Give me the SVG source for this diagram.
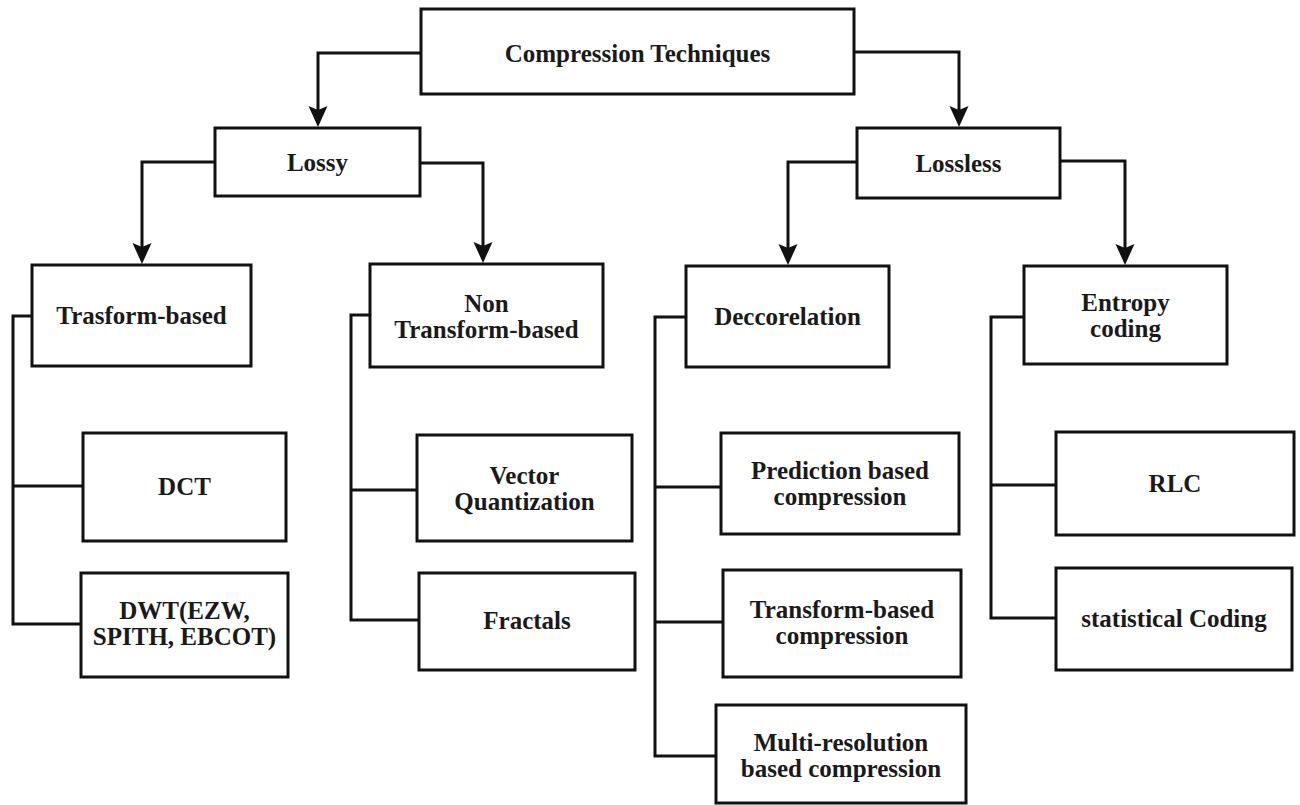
<svg xmlns="http://www.w3.org/2000/svg" width="1300" height="805" viewBox="0 0 1300 805">
  <style>
    .box { fill: #ffffff; stroke: #111111; stroke-width: 3; }
    .lbl { font-family: 'Liberation Serif', 'Times New Roman', 'DejaVu Serif', serif; font-size: 25px; font-weight: bold; fill: #1a1a1a; text-anchor: middle; }
    .wire { fill: none; stroke: #111111; stroke-width: 3; stroke-linejoin: miter; }
  </style>
  <defs>
    <marker id="head" markerUnits="userSpaceOnUse" viewBox="-22 -11 24 22" markerWidth="24" markerHeight="22" refX="-8" refY="0" orient="auto">
      <path d="M0,0 L-21,-9.5 L-17,0 L-21,9.5 Z" fill="#111111"/>
    </marker>
  </defs>
  <rect width="1300" height="805" fill="#ffffff"/>

  <!-- connectors -->
  <g id="connectors">
    <path class="wire" d="M421,53 H318 V119" marker-end="url(#head)"/>
    <path class="wire" d="M854,52 H959 V119" marker-end="url(#head)"/>
    <path class="wire" d="M215,162 H142 V256" marker-end="url(#head)"/>
    <path class="wire" d="M420,163 H483 V255" marker-end="url(#head)"/>
    <path class="wire" d="M857,162 H788 V257" marker-end="url(#head)"/>
    <path class="wire" d="M1060,161 H1125 V257" marker-end="url(#head)"/>

    <path class="wire" d="M32,316 H13 V624 H81 M13,486 H83"/>
    <path class="wire" d="M370,315 H351 V620 H419 M351,490 H417"/>
    <path class="wire" d="M686,317 H655 V756 H716 M655,487 H721 M655,622 H723"/>
    <path class="wire" d="M1024,317 H991 V618 H1056 M991,485 H1056"/>
  </g>

  <g font-family="Liberation Serif, serif">
  <g id="root">
    <rect class="box" x="421" y="9" width="433" height="85"/>
    <text class="lbl" x="637.5" y="62">Compression Techniques</text>
  </g>
  <g id="lossy">
    <rect class="box" x="215" y="128" width="205" height="68"/>
    <text class="lbl" x="317.5" y="171">Lossy</text>
  </g>
  <g id="lossless">
    <rect class="box" x="857" y="128" width="203" height="70"/>
    <text class="lbl" x="958.5" y="172">Lossless</text>
  </g>
  <g id="trasform-based">
    <rect class="box" x="32" y="265" width="219" height="101"/>
    <text class="lbl" x="141.5" y="324">Trasform-based</text>
  </g>
  <g id="non-transform-based">
    <rect class="box" x="370" y="264" width="233" height="103"/>
    <text class="lbl" x="486.5" y="312">Non</text>
    <text class="lbl" x="486.5" y="338">Transform-based</text>
  </g>
  <g id="deccorelation">
    <rect class="box" x="686" y="266" width="203" height="101"/>
    <text class="lbl" x="787.5" y="325">Deccorelation</text>
  </g>
  <g id="entropy-coding">
    <rect class="box" x="1024" y="266" width="203" height="98"/>
    <text class="lbl" x="1125.5" y="311">Entropy</text>
    <text class="lbl" x="1125.5" y="337">coding</text>
  </g>
  <g id="dct">
    <rect class="box" x="83" y="433" width="203" height="108"/>
    <text class="lbl" x="184.5" y="495">DCT</text>
  </g>
  <g id="dwt">
    <rect class="box" x="81" y="573" width="207" height="104"/>
    <text class="lbl" x="184.5" y="619">DWT(EZW,</text>
    <text class="lbl" x="184.5" y="645">SPITH, EBCOT)</text>
  </g>
  <g id="vector-quantization">
    <rect class="box" x="417" y="435" width="215" height="106"/>
    <text class="lbl" x="524.5" y="484">Vector</text>
    <text class="lbl" x="524.5" y="510">Quantization</text>
  </g>
  <g id="fractals">
    <rect class="box" x="419" y="573" width="216" height="97"/>
    <text class="lbl" x="527" y="629">Fractals</text>
  </g>
  <g id="prediction-based">
    <rect class="box" x="721" y="433" width="238" height="101"/>
    <text class="lbl" x="840" y="479">Prediction based</text>
    <text class="lbl" x="840" y="505">compression</text>
  </g>
  <g id="transform-based-compression">
    <rect class="box" x="723" y="570" width="238" height="107"/>
    <text class="lbl" x="842" y="618">Transform-based</text>
    <text class="lbl" x="842" y="644">compression</text>
  </g>
  <g id="multi-resolution">
    <rect class="box" x="716" y="705" width="250" height="98"/>
    <text class="lbl" x="841" y="751">Multi-resolution</text>
    <text class="lbl" x="841" y="777">based compression</text>
  </g>
  <g id="rlc">
    <rect class="box" x="1056" y="432" width="238" height="103"/>
    <text class="lbl" x="1175" y="492">RLC</text>
  </g>
  <g id="statistical-coding">
    <rect class="box" x="1056" y="568" width="236" height="102"/>
    <text class="lbl" x="1174" y="627">statistical Coding</text>
  </g>
  </g>
</svg>
